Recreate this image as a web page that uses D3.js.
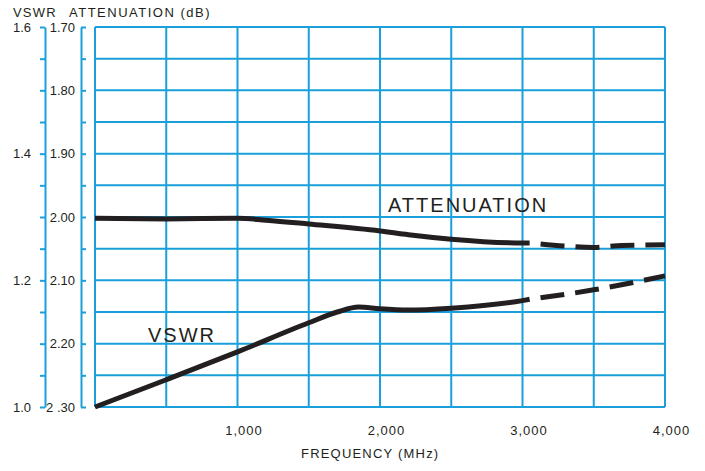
<!DOCTYPE html>
<html>
<head>
<meta charset="utf-8">
<script src="https://cdn.jsdelivr.net/npm/d3@7"></script>
<style>
    html, body { margin: 0; padding: 0; background: #fff; }
    svg { display: block; font-family: "Liberation Sans", Arial, sans-serif; }
</style>
</head>
<body>
<svg id="chart" width="705" height="471"></svg>
<script>
// Data
const freqTicks = [1000, 2000, 3000, 4000];
const vswrLabels = [1.0, 1.2, 1.4, 1.6];
const attLabels = ["1.70", "1.80", "1.90", "2.00", "2.10", "2.20", "2 .30"];
const dashFrom = 3050; // measured data ends here, extrapolated after

const attFreq = [0, 500, 1000, 1200, 1500, 2000, 2200, 2500, 3000, 3050, 3300, 3500, 3700, 4000];
const attValues = [2.002, 2.003, 2.002, 2.005, 2.011, 2.022, 2.028, 2.035, 2.041, 2.041, 2.046, 2.048, 2.045, 2.044];

const vswrFreq = [0, 500, 1000, 1500, 1700, 1850, 2000, 2200, 2500, 3000, 3050, 3500, 4000];
const vswrValues = [1.0, 1.043, 1.087, 1.133, 1.150, 1.158, 1.155, 1.153, 1.156, 1.168, 1.170, 1.185, 1.207];

const blue = "#1a9fdb";
const ink = "#231f20";

const svg = d3.select("#chart");

const x = d3.scaleLinear().domain([0, 4000]).range([95, 665]);
const att = d3.scaleLinear().domain([1.7, 2.3]).range([27, 407]);
const vswr = d3.scaleLinear().domain([1.0, 1.6]).range([407, 27]);

const attSteps = d3.range(13).map((i) => +(1.7 + i * 0.05).toFixed(2));
const vswrSteps = d3.range(13).map((i) => +(1.0 + i * 0.05).toFixed(2));

// grid
const grid = svg.append("g").attr("stroke", blue).attr("stroke-width", 2);
grid.selectAll("line.h")
    .data(attSteps)
    .enter()
    .append("line")
    .attr("class", "h")
    .attr("x1", x(0))
    .attr("x2", x(4000))
    .attr("y1", (d) => att(d))
    .attr("y2", (d) => att(d));
grid.selectAll("line.v")
    .data(d3.range(0, 4001, 500))
    .enter()
    .append("line")
    .attr("class", "v")
    .attr("x1", (d) => x(d))
    .attr("x2", (d) => x(d))
    .attr("y1", att(1.7))
    .attr("y2", att(2.3));

// VSWR axis (outer)
const vswrAxis = d3.axisLeft(vswr)
    .tickValues(vswrSteps)
    .tickSizeInner(5)
    .tickSizeOuter(0)
    .tickPadding(9)
    .tickFormat((d) => (vswrLabels.some((v) => Math.abs(v - d) < 1e-6) ? d.toFixed(1) : ""));
svg.append("g")
    .attr("transform", "translate(45,0)")
    .call(vswrAxis);

// Attenuation axis (inner), ticks point right, labels on left
const attAxis = d3.axisLeft(att)
    .tickValues(attSteps)
    .tickSizeInner(-5)
    .tickSizeOuter(0)
    .tickPadding(6)
    .tickFormat((d) => {
        const i = Math.round((d - 1.7) / 0.1 * 1000) / 1000;
        return Number.isInteger(i) ? attLabels[i] : "";
    });
svg.append("g")
    .attr("transform", "translate(81,0)")
    .call(attAxis);

// frequency labels
const xAxis = d3.axisBottom(x)
    .tickValues(freqTicks)
    .tickSize(0)
    .tickPadding(19)
    .tickFormat(d3.format(","));
const xg = svg.append("g")
    .attr("transform", `translate(0,${att(2.3)})`)
    .call(xAxis);
xg.select(".domain").remove();
xg.selectAll("text").attr("dx", 6).attr("letter-spacing", 1);

svg.selectAll(".domain, .tick line")
    .attr("stroke", blue)
    .attr("stroke-width", 2);
svg.selectAll(".tick text")
    .attr("fill", ink)
    .attr("font-size", 13)
    .attr("font-family", "Liberation Sans, Arial, sans-serif");

// curves
function drawCurve(freqs, vals, yScale) {
    const pts = freqs.map((f, i) => [f, vals[i]]);
    const line = d3.line()
        .x((d) => x(d[0]))
        .y((d) => yScale(d[1]))
        .curve(d3.curveMonotoneX);
    svg.append("path")
        .attr("d", line(pts.filter((d) => d[0] <= dashFrom)))
        .attr("fill", "none")
        .attr("stroke", ink)
        .attr("stroke-width", 5);
    svg.append("path")
        .attr("d", line(pts.filter((d) => d[0] >= dashFrom)))
        .attr("fill", "none")
        .attr("stroke", ink)
        .attr("stroke-width", 5)
        .attr("stroke-dasharray", "24 11")
        .attr("stroke-dashoffset", 24);
}
drawCurve(attFreq, attValues, att);
drawCurve(vswrFreq, vswrValues, vswr);

// texts
const txt = (xx, yy, s, size, ls) =>
    svg.append("text")
        .attr("x", xx)
        .attr("y", yy)
        .attr("fill", ink)
        .attr("font-size", size)
        .attr("letter-spacing", ls)
        .text(s);

txt(13, 17, "VSWR", 13, 1.2);
txt(69, 17, "ATTENUATION (dB)", 13, 1.5);
txt(388, 212, "ATTENUATION", 20, 2);
txt(148, 342, "VSWR", 20, 2);
txt(301, 458, "FREQUENCY (MHz)", 13, 1.2);
</script>
</body>
</html>
